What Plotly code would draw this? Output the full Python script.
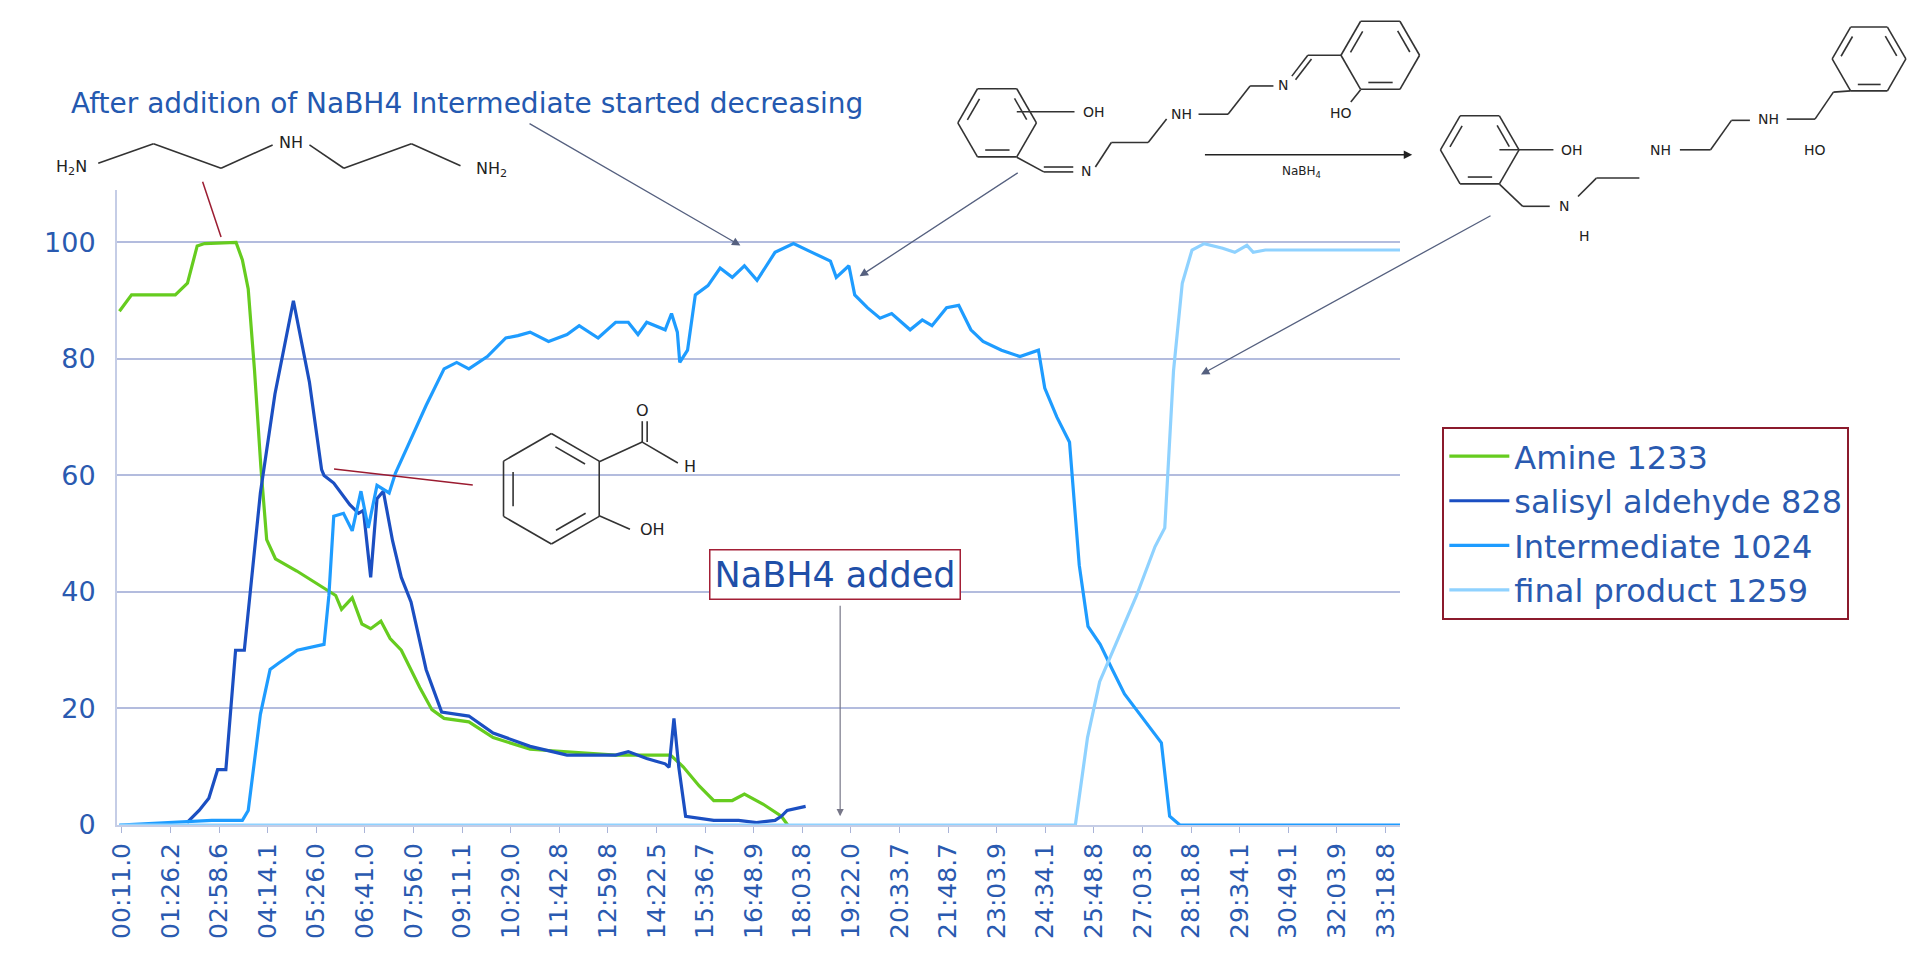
import math
import plotly.graph_objects as go

# x values are in tick-label index units (0 = first label, 26 = last label)
tick_labels = ['00:11.0', '01:26.2', '02:58.6', '04:14.1', '05:26.0', '06:41.0', '07:56.0',
               '09:11.1', '10:29.0', '11:42.8', '12:59.8', '14:22.5', '15:36.7', '16:48.9',
               '18:03.8', '19:22.0', '20:33.7', '21:48.7', '23:03.9', '24:34.1', '25:48.8',
               '27:03.8', '28:18.8', '29:34.1', '30:49.1', '32:03.9', '33:18.8']

amine_x = [-0.05, 0.2, 0.6, 1.1, 1.35, 1.55, 1.7, 2.35, 2.48, 2.6, 2.73, 2.86, 2.98, 3.16,
           3.6, 4.1, 4.4, 4.52, 4.74, 4.94, 5.12, 5.33, 5.52, 5.75, 6.13, 6.38, 6.63, 7.14,
           7.64, 8.4, 9.16, 10.16, 11.29, 11.55, 11.88, 12.18, 12.56, 12.81, 13.19, 13.57, 13.7]
amine_y = [88.2, 91, 91, 91, 93, 99.4, 99.8, 100, 97, 92, 78, 61.5, 49, 45.7,
           43.6, 41, 39.4, 37, 39, 34.5, 33.7, 35, 32, 30, 23.6, 19.8, 18.3, 17.7,
           15, 13, 12.6, 12, 12, 10, 6.7, 4.2, 4.2, 5.3, 3.6, 1.5, 0]

sal_x = [1.34, 1.59, 1.79, 1.97, 2.14, 2.34, 2.52, 2.85, 3.15, 3.53, 3.86, 4.11, 4.16, 4.36,
         4.69, 4.87, 4.97, 5.12, 5.25, 5.38, 5.57, 5.75, 5.95, 6.26, 6.58, 7.14, 7.64, 8.4,
         9.16, 10.16, 10.42, 10.8, 11.18, 11.26, 11.36, 11.46, 11.6, 12.18, 12.69, 13.06,
         13.44, 13.57, 13.69, 14.07]
sal_y = [0.4, 2.5, 4.6, 9.5, 9.5, 30, 30, 57, 74, 90, 76, 61, 60, 58.7,
         55, 53.5, 54, 42.5, 56, 57.3, 48.8, 42.5, 38.3, 26.7, 19.4, 18.7, 15.8, 13.5,
         12, 12, 12.6, 11.4, 10.5, 9.9, 18.3, 9.9, 1.5, 0.8, 0.8, 0.4,
         0.8, 1.5, 2.5, 3.2]

inter_x = [-0.05, 1.85, 2.48, 2.6, 2.85, 3.05, 3.23, 3.61, 4.16, 4.26, 4.36, 4.56, 4.74, 4.92,
           5.07, 5.25, 5.5, 5.63, 5.88, 6.26, 6.63, 6.89, 7.14, 7.52, 7.9, 8.15, 8.4, 8.78,
           9.16, 9.41, 9.8, 10.16, 10.42, 10.62, 10.8, 11.18, 11.31, 11.43, 11.48, 11.64,
           11.8, 12.06, 12.31, 12.56, 12.81, 13.07, 13.44, 13.82, 14.2, 14.58, 14.7, 14.96,
           15.08, 15.34, 15.6, 15.84, 16.22, 16.47, 16.67, 16.97, 17.22, 17.47, 17.72, 18.1,
           18.48, 18.86, 18.99, 19.24, 19.5, 19.7, 19.88, 20.13, 20.38, 20.63, 21.01, 21.39,
           21.56, 21.77, 26.3]
inter_y = [0, 0.8, 0.8, 2.5, 19, 26.7, 27.8, 30, 31, 39.4, 53, 53.5, 50.5, 57.3,
           51, 58.3, 57, 60.4, 65, 72, 78.3, 79.4, 78.3, 80.4, 83.6, 84, 84.6, 83,
           84.2, 85.7, 83.6, 86.3, 86.3, 84.2, 86.3, 85, 87.8, 84.6, 79.4, 81.5,
           91, 92.6, 95.6, 94, 96, 93.5, 98.3, 99.8, 98.3, 96.8, 94, 96,
           91, 88.8, 87, 87.8, 85, 86.7, 85.7, 88.8, 89.2, 85, 83, 81.5,
           80.4, 81.5, 75, 70, 65.7, 44.6, 34.1, 31, 26.7, 22.5, 18.3, 14.1,
           1.5, 0, 0]

final_x = [-0.05, 19.62, 19.87, 20.12, 20.5, 20.88, 21.26, 21.46, 21.64, 21.82, 22.02, 22.27,
           22.65, 22.9, 23.15, 23.28, 23.53, 26.3]
final_y = [0, 0, 15, 24.6, 32, 39.4, 47.8, 51, 78, 93, 98.7, 99.8,
           99, 98.3, 99.5, 98.3, 98.7, 98.7]

names = ['Amine 1233', 'salisyl aldehyde 828', 'Intermediate 1024', 'final product 1259']
colors = ['#66cc1f', '#1b4fc2', '#1e9cff', '#8fd2ff']

FONT = 'DejaVu Sans, Arial, sans-serif'
W, H = 1926, 965
L, R, T, B = 109, 534, 182, 148
PW, PH = W - L - R, H - T - B
S = 1.228  # reference was read at this reduced scale
OFF = 8


def P(x, y):
    # picture coords (as read) -> paper coords
    rx, ry = x * S - OFF, y * S - OFF
    return (rx - L) / PW, (H - B - ry) / PH


fig = go.Figure()
for xs, ys, nm, c in zip([amine_x, sal_x, inter_x, final_x], [amine_y, sal_y, inter_y, final_y],
                         names, colors):
    fig.add_trace(go.Scatter(x=xs, y=ys, name=nm, mode='lines',
                             line=dict(color=c, width=3.2)))

shapes = []
annots = []


def seg(p, q, color='#333333', width=1.6):
    x0, y0 = P(*p)
    x1, y1 = P(*q)
    shapes.append(dict(type='line', xref='paper', yref='paper', x0=x0, y0=y0, x1=x1, y1=y1,
                       line=dict(color=color, width=width)))


def hexring(cx, cy, r, start=30, dbl=(0, 2, 4)):
    pts = [(cx + r * math.cos(math.radians(start + 60 * k)),
            cy - r * math.sin(math.radians(start + 60 * k))) for k in range(6)]
    for k in range(6):
        seg(pts[k], pts[(k + 1) % 6])
        if k in dbl:
            a, b = pts[k], pts[(k + 1) % 6]
            ia = (a[0] + (cx - a[0]) * 0.2, a[1] + (cy - a[1]) * 0.2)
            ib = (b[0] + (cx - b[0]) * 0.2, b[1] + (cy - b[1]) * 0.2)
            ia = (ia[0] + (ib[0] - ia[0]) * 0.12, ia[1] + (ib[1] - ia[1]) * 0.12)
            ib = (ib[0] + (ia[0] - ib[0]) * 0.12, ib[1] + (ia[1] - ib[1]) * 0.12)
            seg(ia, ib)
    return pts


def label(x, y, t, size=16, color='#222222'):
    px, py = P(x, y)
    annots.append(dict(x=px, y=py, xref='paper', yref='paper', text=t, showarrow=False,
                       xanchor='center', yanchor='middle',
                       font=dict(family=FONT, size=size, color=color)))


def arrow(p, q, color='#55607f'):
    x1, y1 = P(*q)
    annots.append(dict(x=x1, y=y1, ax=(p[0] - q[0]) * S, ay=(p[1] - q[1]) * S,
                       xref='paper', yref='paper', text='', showarrow=True, arrowhead=2,
                       arrowsize=1.3, arrowwidth=1.3, arrowcolor=color))


# diethylenetriamine
label(58, 136, 'H<sub>2</sub>N')
for a, b in [((80, 133), (125, 117)), ((125, 117), (180, 137)), ((180, 137), (222, 118)),
             ((252, 118), (280, 137)), ((280, 137), (335, 117)), ((335, 117), (375, 135))]:
    seg(a, b)
label(237, 116, 'NH')
label(400, 138, 'NH<sub>2</sub>')
seg((165, 148), (180, 193), color='#9b1b30', width=1.5)

# salicylaldehyde
hexring(449, 398, 45, start=30)
seg((488, 376), (523, 360))
seg((523, 360), (523, 343))
seg((527, 360), (527, 343))
seg((523, 360), (552, 377))
label(523, 334, 'O')
label(562, 380, 'H')
seg((488, 420), (513, 431))
label(531, 431, 'OH')
seg((272, 382), (385, 395), color='#9b1b30', width=1.5)

# Schiff base intermediate
hexring(812, 100, 32, start=0)
seg((828, 91), (875, 91))
label(891, 91, 'OH', 14)
seg((828, 128), (850, 140))
seg((850, 140), (874, 140))
seg((850, 136), (874, 136))
label(884, 139, 'N', 14)
seg((892, 136), (905, 116))
seg((905, 116), (935, 116))
seg((935, 116), (950, 97))
label(962, 93, 'NH', 14)
seg((976, 93), (1000, 93))
seg((1000, 93), (1018, 70))
seg((1018, 70), (1037, 70))
label(1045, 69, 'N', 14)
seg((1052, 62), (1065, 45))
seg((1055, 65), (1068, 48))
seg((1065, 45), (1092, 45))
hexring(1124, 45, 32, start=0)
seg((1108, 73), (1100, 83))
label(1092, 92, 'HO', 14)

# reaction arrow
arrow((980, 126), (1150, 126), color='#222222')
label(1060, 140, 'NaBH<sub>4</sub>', 12)

# reduced product
hexring(1205, 122, 32, start=0)
seg((1221, 122), (1265, 122))
label(1280, 122, 'OH', 14)
seg((1221, 150), (1240, 168))
seg((1240, 168), (1262, 168))
label(1274, 168, 'N', 14)
label(1290, 192, 'H', 14)
seg((1285, 160), (1300, 145))
seg((1300, 145), (1335, 145))
label(1352, 122, 'NH', 14)
seg((1368, 122), (1393, 122))
seg((1393, 122), (1410, 98))
seg((1410, 98), (1425, 98))
label(1440, 97, 'NH', 14)
seg((1455, 97), (1478, 97))
seg((1478, 97), (1493, 75))
hexring(1522, 48, 30, start=0)
seg((1507, 74), (1493, 75))
label(1478, 122, 'HO', 14)

# pointer arrows
arrow((430, 100), (603, 200))
arrow((830, 140), (700, 225))
arrow((1215, 175), (978, 305))

# texts
label(380, 84, 'After addition of NaBH4 Intermediate started decreasing', 28, '#2459b0')
nx, ny = P(680, 468)
annots.append(dict(x=nx, y=ny, xref='paper', yref='paper', text='NaBH4 added', showarrow=False,
                   xanchor='center', yanchor='middle',
                   font=dict(family=FONT, size=35, color='#1f4fa8'), bordercolor='#a31f36',
                   borderwidth=1.5, borderpad=4, bgcolor='white'))
annots.append(dict(x=14.78, y=1.5, ax=0, ay=-212, xref='x', yref='y', text='', showarrow=True,
                   arrowhead=2, arrowsize=1.2, arrowwidth=1.2, arrowcolor='#777788'))

fig.update_layout(
    width=W, height=H, margin=dict(l=L, r=R, t=T, b=B),
    plot_bgcolor='white', paper_bgcolor='white',
    font=dict(family=FONT),
    shapes=shapes, annotations=annots,
    legend=dict(x=1.033, y=0.627, xanchor='left', yanchor='top', bordercolor='#8b1a2c',
                borderwidth=2, bgcolor='white', itemwidth=60, tracegroupgap=6,
                font=dict(size=32, color='#2a5ab0', family=FONT)),
    showlegend=True,
)
fig.update_xaxes(range=[-0.1, 26.3], tickvals=list(range(len(tick_labels))), ticktext=tick_labels,
                 tickangle=-90, tickfont=dict(size=25, color='#2a5ab0'), showgrid=False,
                 showline=True, linecolor='#c5cde6', linewidth=2, ticks='outside',
                 tickcolor='#aab4d8', ticklen=6, zeroline=False)
fig.update_yaxes(range=[0, 109], tickvals=[0, 20, 40, 60, 80, 100],
                 tickfont=dict(size=27, color='#2a5ab0'), gridcolor='#b3bcde', gridwidth=1.5,
                 showline=True, linecolor='#c5cde6', linewidth=2, zeroline=False, ticks='',
                 ticklabelstandoff=14)

fig.write_html('out.html')
